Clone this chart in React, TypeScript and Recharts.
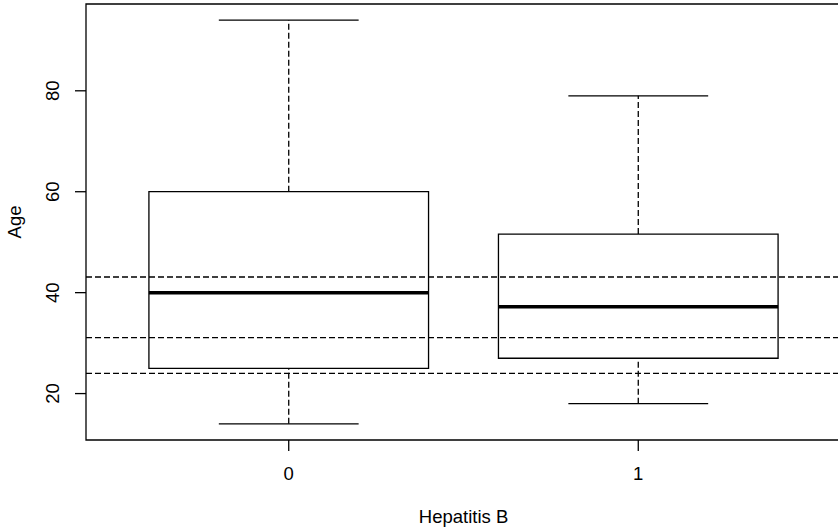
import { ComposedChart, XAxis, YAxis, ReferenceArea, ReferenceLine } from "recharts";

const categories = ["0", "1"];
const positions = [1, 2];
const whiskerLow = [14, 18];
const quartile1 = [25, 27];
const medians = [40, 37.2];
const quartile3 = [60, 51.6];
const whiskerHigh = [94, 79];
const guideLines = [43.1, 31.1, 24];
const yTicks = [20, 40, 60, 80];

const FONT = "'Liberation Sans', Arial, sans-serif";
const BOX_HALF = 0.4;
const CAP_HALF = 0.2;

const boxData = categories.map((c, i) => ({
  cat: c,
  pos: positions[i],
  lo: whiskerLow[i],
  q1: quartile1[i],
  med: medians[i],
  q3: quartile3[i],
  hi: whiskerHigh[i],
}));

const YTick = ({ x, y, payload }: any) => (
  <text
    x={x - 20}
    y={y}
    transform={`rotate(-90, ${x - 20}, ${y})`}
    textAnchor="middle"
    dominantBaseline="central"
    fontFamily={FONT}
    fontSize={18.5}
    fill="#000"
  >
    {payload.value}
  </text>
);

const XTick = ({ x, y, payload }: any) => (
  <text x={x} y={y + 20} textAnchor="middle" dominantBaseline="central" fontFamily={FONT} fontSize={18.5} fill="#000">
    {categories[positions.indexOf(payload.value)]}
  </text>
);

export default function App() {
  return (
    <div style={{ position: "absolute", left: 0, top: 0, width: 838, height: 529, overflow: "hidden", background: "#fff" }}>
      <ComposedChart width={841} height={529} data={boxData} margin={{ top: 4, right: 0, left: 0, bottom: 0 }}>
        <XAxis
          type="number"
          dataKey="pos"
          domain={[0.42, 2.58]}
          ticks={positions}
          height={89}
          axisLine={false}
          tickSize={11}
          tickLine={{ stroke: "#000", strokeWidth: 1.3 }}
          tick={<XTick />}
          allowDataOverflow
          label={({ viewBox }: any) => (
            <text
              x={viewBox.x + viewBox.width / 2}
              y={viewBox.y + 76}
              textAnchor="middle"
              dominantBaseline="central"
              fontFamily={FONT}
              fontSize={18.5}
              fill="#000"
            >
              Hepatitis B
            </text>
          )}
        />
        <YAxis
          type="number"
          domain={[10.8, 97.2]}
          ticks={yTicks}
          width={86}
          axisLine={false}
          tickSize={11}
          tickLine={{ stroke: "#000", strokeWidth: 1.3 }}
          tick={<YTick />}
          allowDataOverflow
          label={({ viewBox }: any) => {
            const cx = 14;
            const cy = viewBox.y + viewBox.height / 2;
            return (
              <text
                x={cx}
                y={cy}
                transform={`rotate(-90, ${cx}, ${cy})`}
                textAnchor="middle"
                dominantBaseline="central"
                fontFamily={FONT}
                fontSize={18.5}
                fill="#000"
              >
                Age
              </text>
            );
          }}
        />

        {/* plot frame */}
        <ReferenceArea x1={0.42} x2={2.58} y1={10.8} y2={97.2} fill="none" stroke="#000" strokeWidth={1.3} ifOverflow="visible" />

        {boxData.map((b) => (
          <ReferenceLine
            key={`wl-${b.cat}`}
            segment={[{ x: b.pos, y: b.lo }, { x: b.pos, y: b.q1 }]}
            stroke="#000"
            strokeWidth={1.3}
            strokeDasharray="6 3"
          />
        ))}
        {boxData.map((b) => (
          <ReferenceLine
            key={`wh-${b.cat}`}
            segment={[{ x: b.pos, y: b.q3 }, { x: b.pos, y: b.hi }]}
            stroke="#000"
            strokeWidth={1.3}
            strokeDasharray="6 3"
          />
        ))}
        {boxData.map((b) => (
          <ReferenceLine
            key={`cl-${b.cat}`}
            segment={[{ x: b.pos - CAP_HALF, y: b.lo }, { x: b.pos + CAP_HALF, y: b.lo }]}
            stroke="#000"
            strokeWidth={1.3}
          />
        ))}
        {boxData.map((b) => (
          <ReferenceLine
            key={`ch-${b.cat}`}
            segment={[{ x: b.pos - CAP_HALF, y: b.hi }, { x: b.pos + CAP_HALF, y: b.hi }]}
            stroke="#000"
            strokeWidth={1.3}
          />
        ))}
        {boxData.map((b) => (
          <ReferenceArea
            key={`box-${b.cat}`}
            x1={b.pos - BOX_HALF}
            x2={b.pos + BOX_HALF}
            y1={b.q1}
            y2={b.q3}
            fill="none"
            stroke="#000"
            strokeWidth={1.3}
          />
        ))}
        {boxData.map((b) => (
          <ReferenceLine
            key={`med-${b.cat}`}
            segment={[{ x: b.pos - BOX_HALF, y: b.med }, { x: b.pos + BOX_HALF, y: b.med }]}
            stroke="#000"
            strokeWidth={3.5}
          />
        ))}

        {guideLines.map((v) => (
          <ReferenceLine key={`g-${v}`} y={v} stroke="#000" strokeWidth={1.3} strokeDasharray="6 3" />
        ))}
      </ComposedChart>
    </div>
  );
}
